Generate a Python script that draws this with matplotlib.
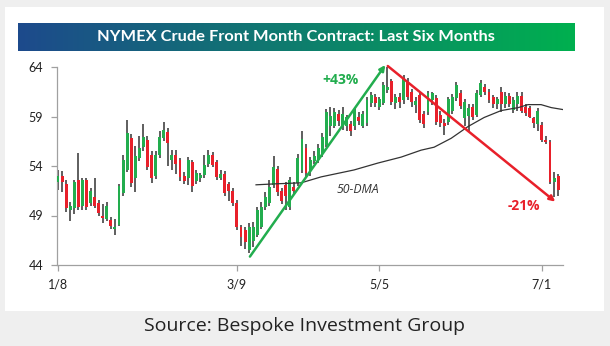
import numpy as np
import matplotlib.pyplot as plt
from matplotlib.patches import Rectangle

# Precios diarios (open, high, low, close)
opens = [52.4, 53.0, 52.2, 49.6, 49.8, 52.6, 50.0, 52.6, 50.3, 50.9,
         50.3, 48.9, 48.6, 48.5, 47.6, 48.0, 51.3, 53.6, 56.8, 52.8,
         54.8, 55.9, 56.6, 55.1, 53.0, 55.1, 56.8, 57.4, 54.6, 55.1,
         54.6, 53.0, 52.8, 54.4, 52.5, 52.8, 53.1, 54.2, 55.1, 54.4,
         52.8, 53.2, 52.2, 51.5, 50.3, 47.8, 47.5, 45.5, 46.4, 47.0,
         47.8, 49.9, 50.3, 52.1, 53.7, 51.5, 52.1, 49.9, 51.9, 52.3,
         53.6, 55.8, 53.5, 54.5, 54.6, 55.2, 56.1, 58.0, 58.0, 59.3,
         58.0, 58.0, 58.2, 58.0, 59.0, 58.0, 58.3, 60.4, 61.0, 60.0,
         60.4, 61.7, 62.6, 60.4, 61.0, 60.7, 62.5, 61.5, 60.2, 61.2,
         59.3, 59.5, 60.7, 60.9, 59.2, 58.3, 58.4, 59.6, 60.9, 61.4,
         58.8, 59.1, 60.0, 59.2, 61.2, 62.0, 61.5, 61.0, 60.3, 61.5,
         60.3, 61.1, 59.7, 60.3, 61.1, 60.0, 59.9, 58.8, 58.2, 58.1,
         56.6, 56.4, 52.4, 53.0]
highs = [53.6, 53.5, 52.6, 50.4, 52.6, 55.3, 52.8, 52.8, 51.8, 52.8,
         50.6, 50.2, 50.4, 48.8, 48.6, 52.2, 55.1, 58.6, 57.2, 56.0,
         57.0, 58.2, 57.0, 55.5, 55.5, 57.5, 58.4, 57.8, 55.6, 55.6,
         54.8, 53.4, 54.9, 54.6, 53.6, 53.3, 55.1, 55.6, 55.4, 54.6,
         53.6, 53.5, 52.4, 51.8, 50.6, 48.0, 47.8, 48.2, 48.3, 49.9,
         50.4, 51.4, 52.6, 55.0, 54.0, 51.8, 52.4, 52.9, 52.4, 55.2,
         57.5, 56.2, 54.9, 55.5, 56.2, 57.3, 59.8, 60.0, 59.9, 59.7,
         60.0, 59.2, 58.5, 60.0, 59.5, 59.6, 61.0, 61.5, 61.3, 61.0,
         62.5, 64.0, 62.8, 61.3, 61.4, 63.2, 62.9, 61.8, 61.0, 61.5,
         59.6, 61.6, 61.5, 61.2, 59.6, 58.7, 61.0, 61.3, 62.5, 61.7,
         60.8, 60.3, 60.3, 61.7, 62.7, 62.3, 61.8, 61.2, 61.0, 62.0,
         61.5, 61.4, 61.0, 61.5, 61.5, 60.3, 60.1, 59.0, 59.9, 58.4,
         57.0, 56.6, 53.4, 53.2]
lows = [51.6, 51.4, 49.4, 48.4, 49.2, 49.6, 49.6, 49.6, 50.0, 49.8,
        48.9, 48.2, 48.4, 47.6, 47.0, 47.9, 51.0, 53.4, 51.9, 51.4,
        54.5, 55.5, 53.6, 52.3, 52.7, 54.8, 56.5, 54.0, 53.6, 53.2,
        52.5, 52.2, 52.1, 51.4, 52.2, 52.4, 52.8, 53.9, 53.9, 52.6,
        52.6, 51.0, 50.5, 50.0, 47.5, 45.9, 45.6, 45.2, 45.8, 46.8,
        47.6, 49.6, 50.0, 51.8, 51.0, 50.2, 49.6, 49.6, 51.2, 52.0,
        53.3, 52.8, 53.0, 54.2, 54.3, 54.9, 55.9, 57.0, 57.8, 58.0,
        57.6, 57.5, 57.0, 57.6, 58.1, 57.8, 58.0, 60.0, 60.0, 59.7,
        60.2, 61.4, 60.2, 59.8, 59.9, 60.3, 60.7, 60.0, 59.4, 58.3,
        57.8, 59.2, 60.2, 58.1, 57.9, 57.1, 58.1, 59.3, 60.6, 59.8,
        58.0, 57.5, 58.6, 59.0, 61.0, 61.2, 60.4, 59.9, 59.8, 59.5,
        59.9, 60.0, 59.4, 59.6, 59.4, 59.1, 58.8, 57.8, 57.5, 56.4,
        56.2, 52.2, 50.9, 51.0]
closes = [53.0, 52.4, 49.8, 50.0, 52.4, 49.9, 52.6, 49.9, 51.5, 50.0,
          49.3, 48.7, 50.0, 47.9, 47.8, 52.0, 54.6, 57.3, 52.3, 55.0,
          55.8, 56.9, 53.9, 52.8, 55.1, 56.9, 57.6, 56.3, 55.1, 54.2,
          52.9, 52.5, 54.6, 52.0, 53.3, 53.1, 54.1, 55.1, 54.1, 52.9,
          53.2, 51.3, 51.5, 50.3, 47.8, 46.8, 46.3, 47.8, 47.8, 49.6,
          49.9, 50.9, 51.9, 53.9, 51.4, 50.5, 51.0, 52.6, 51.5, 54.8,
          56.7, 53.3, 54.6, 55.0, 55.8, 56.9, 59.5, 59.0, 59.5, 58.5,
          59.3, 58.9, 57.5, 59.7, 58.5, 59.3, 60.7, 61.2, 60.4, 60.8,
          62.2, 62.0, 60.5, 61.0, 60.5, 62.9, 61.0, 60.5, 60.6, 58.6,
          58.2, 61.4, 61.4, 58.4, 58.3, 58.0, 60.8, 61.0, 62.2, 60.1,
          60.5, 59.9, 58.9, 61.4, 62.4, 61.5, 60.7, 60.3, 60.8, 60.3,
          61.1, 60.3, 60.7, 61.1, 59.6, 59.4, 59.0, 58.3, 59.6, 56.6,
          56.4, 52.4, 52.8, 51.6]

# Media movil de 50 dias
dma_idx = [48.7, 53.6, 59.8, 64.7, 72.8, 78.7, 84.4, 89.3, 92.5, 96.7,
           100.9, 104.8, 109.0, 113.2, 115.6, 118.8, 121.3, 124.2]
dma_val = [52.1, 52.2, 52.3, 52.9, 53.6, 54.3, 54.9, 55.6, 55.9, 56.8,
           58.0, 58.9, 59.6, 59.9, 60.2, 60.2, 59.9, 59.7]

tick_idx = [0, 44, 79, 119]
tick_labels = ['1/8', '3/9', '5/5', '7/1']

# Flechas: subida y caida
up_start, up_end = (47.2, 44.85), (80.5, 64.2)
down_start, down_end = (81.1, 64.1), (122.3, 50.4)

GREEN = '#22ad4e'
RED = '#e8202a'

fig = plt.figure(figsize=(6.1, 3.46), dpi=100)
fig.patch.set_facecolor('#efefef')
fig.patches.append(Rectangle((5/610, 1 - 311/346), 599/610, 304/346,
                             transform=fig.transFigure, facecolor='white',
                             edgecolor='none', zorder=-10))

# Barra de titulo con degrade azul -> verde
tax = fig.add_axes([17.5/610, 1 - 51/346, 556.5/610, 28/346])
c1 = np.array([0x1d, 0x4a, 0x8c]) / 255
c2 = np.array([0x00, 0xb0, 0x4f]) / 255
t = np.linspace(0, 1, 256)
grad = (c1[None, :] * (1 - t[:, None]) + c2[None, :] * t[:, None])[None, :, :]
tax.imshow(grad, aspect='auto', extent=[0, 1, 0, 1])
tax.set_axis_off()
tax.text(0.5, 0.5, 'NYMEX Crude Front Month Contract: Last Six Months',
         color='white', fontsize=11.8, fontweight='bold', family='Lato',
         ha='center', va='center')

ax = fig.add_axes([57/610, 1 - 265/346, 506/610, 198/346])
ax.patch.set_alpha(0)

x = np.arange(len(closes))
o = np.array(opens)
c = np.array(closes)
colors = [GREEN if cc >= oo else RED for oo, cc in zip(o, c)]

ax.vlines(x, lows, highs, color='#333333', linewidth=1.1, zorder=2)
ax.bar(x, np.abs(c - o), bottom=np.minimum(o, c), width=0.72,
       color=colors, zorder=3)

ax.plot(dma_idx, dma_val, color='#333333', linewidth=0.9, zorder=4)
ax.text(73.7, 51.6, '50-DMA', fontsize=8.8, style='italic', color='#333333',
        ha='center', va='center', family='Open Sans')

ax.annotate('', xy=up_end, xytext=up_start,
            arrowprops=dict(arrowstyle='-|>', color=GREEN, lw=1.8,
                            mutation_scale=8, shrinkA=0, shrinkB=0),
            zorder=5, annotation_clip=False)
ax.annotate('', xy=down_end, xytext=down_start,
            arrowprops=dict(arrowstyle='-|>', color=RED, lw=1.8,
                            mutation_scale=8, shrinkA=0, shrinkB=0),
            zorder=5, annotation_clip=False)
ax.text(69.5, 62.7, '+43%', color=GREEN, fontsize=10, fontweight='bold',
        ha='center', va='center', family='Open Sans')
ax.text(114.6, 50.0, '-21%', color=RED, fontsize=10, fontweight='bold',
        ha='center', va='center', family='Open Sans')

ax.set_xlim(-0.25, 124.2)
ax.set_ylim(44, 64)
ax.set_yticks([44, 49, 54, 59, 64])
ax.set_xticks(tick_idx)
ax.set_xticklabels(tick_labels)
for s in ['top', 'right']:
    ax.spines[s].set_visible(False)
for s in ['left', 'bottom']:
    ax.spines[s].set_color('#a0a0a0')
    ax.spines[s].set_linewidth(0.9)
ax.tick_params(axis='both', colors='#a0a0a0', length=4, width=0.9,
               labelsize=9, labelcolor='#222222', pad=6)
for lab in ax.get_xticklabels() + ax.get_yticklabels():
    lab.set_family('Lato')

fig.text(0.5, 1 - 326/346, 'Source: Bespoke Investment Group',
         fontsize=14, color='#222222', ha='center', va='center',
         family='Open Sans')

fig.savefig('out.png', dpi=100, facecolor=fig.get_facecolor())
